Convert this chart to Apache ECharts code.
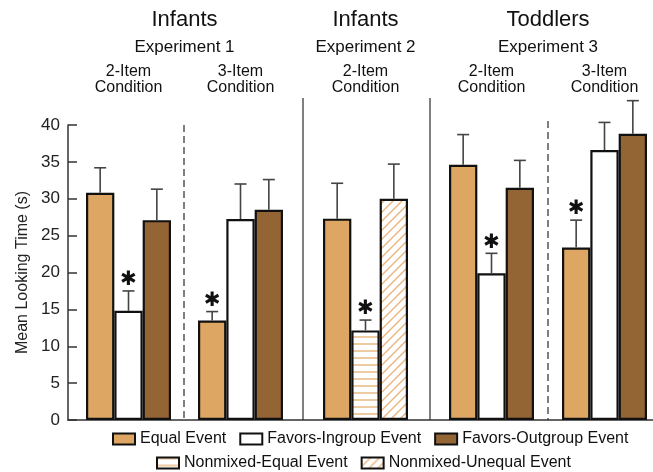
<!DOCTYPE html>
<html>
<head>
<meta charset="utf-8">
<script src="https://cdn.jsdelivr.net/npm/echarts@6/dist/echarts.min.js"></script>
<style>html,body{margin:0;padding:0;background:#fff}#c{width:653px;height:472px}</style>
</head>
<body>
<div id="c"></div>
<script>
// ---- data ----
const eventTypes = ['Equal Event', 'Favors-Ingroup Event', 'Favors-Outgroup Event', 'Nonmixed-Equal Event', 'Nonmixed-Unequal Event'];
const conditions = ['2-Item\nCondition', '3-Item\nCondition', '2-Item\nCondition', '2-Item\nCondition', '3-Item\nCondition'];
const ageGroups = ['Infants', 'Infants', 'Toddlers'];
const experiments = ['Experiment 1', 'Experiment 2', 'Experiment 3'];
const experimentOfGroup = [0, 0, 1, 2, 2];
// which event type is shown in each bar slot of each condition
const groupTypes = [[0, 1, 2], [0, 1, 2], [0, 3, 4], [0, 1, 2], [0, 1, 2]];
// means (s) for the first, second and third bar of each condition
const firstMean  = [30.8, 13.5, 27.3, 34.6, 23.4];
const secondMean = [14.8, 27.25, 12.15, 19.9, 36.6];
const thirdMean  = [27.1, 28.5, 30.0, 31.5, 38.8];
// standard errors
const firstErr  = [3.4, 1.2, 4.8, 4.1, 3.7];
const secondErr = [2.7, 4.75, 1.4, 2.7, 3.75];
const thirdErr  = [4.2, 4.1, 4.7, 3.7, 4.5];
// significance markers
const firstSig  = [0, 1, 0, 0, 1];
const secondSig = [1, 0, 1, 1, 0];
const thirdSig  = [0, 0, 0, 0, 0];
const yTicks = [0, 5, 10, 15, 20, 25, 30, 35, 40];

// ---- layout ----
const gridTop = 125, gridBottom = 52, axisLeft = 68;
const groupLeft = [86, 198, 323, 449, 562];
const groupWidth = 85;
const dividers = [
  {x: 184, top: 125, dashed: true},
  {x: 303, top: 98, dashed: false},
  {x: 430, top: 98, dashed: false},
  {x: 548, top: 121, dashed: true}
];

function stripePattern(diagonal) {
  const s = diagonal ? 9 : 7;
  const cv = document.createElement('canvas');
  cv.width = s; cv.height = s;
  const ctx = cv.getContext('2d');
  ctx.fillStyle = '#ffffff';
  ctx.fillRect(0, 0, s, s);
  ctx.strokeStyle = '#E9B57C';
  ctx.lineWidth = 1.4;
  ctx.beginPath();
  if (diagonal) {
    ctx.moveTo(-1, s + 1); ctx.lineTo(s + 1, -1);
    ctx.moveTo(-1, 1); ctx.lineTo(1, -1);
    ctx.moveTo(s - 1, s + 1); ctx.lineTo(s + 1, s - 1);
  } else {
    ctx.moveTo(0, 1); ctx.lineTo(s, 1);
  }
  ctx.stroke();
  return {image: cv, repeat: 'repeat'};
}

const typeColors = ['#DEA663', '#ffffff', '#936534', stripePattern(false), stripePattern(true)];

const means = [firstMean, secondMean, thirdMean];
const errs = [firstErr, secondErr, thirdErr];
const sigs = [firstSig, secondSig, thirdSig];

const grids = [{left: axisLeft, right: 0, top: gridTop, bottom: gridBottom}];
const xAxes = [{
  type: 'value', min: 0, max: 1, gridIndex: 0,
  axisLine: {show: true, lineStyle: {color: '#333', width: 1.5}},
  axisTick: {show: false}, axisLabel: {show: false}, splitLine: {show: false}
}];
const yAxes = [{
  type: 'value', min: 0, max: 40, interval: 5, gridIndex: 0,
  axisLine: {show: true, lineStyle: {color: '#333', width: 1.5}},
  axisTick: {show: true, inside: true, length: 9, lineStyle: {color: '#333', width: 1.5}},
  axisLabel: {fontSize: 17, color: '#222', margin: 8, fontFamily: 'Liberation Sans'},
  splitLine: {show: false},
  name: 'Mean Looking Time (s)', nameLocation: 'middle', nameRotate: 90, nameGap: 37,
  nameTextStyle: {fontSize: 16, color: '#222', fontFamily: 'Liberation Sans'}
}];
const series = [];

conditions.forEach((cond, g) => {
  const gi = g + 1;
  grids.push({left: groupLeft[g], width: groupWidth, top: gridTop, bottom: gridBottom});
  xAxes.push({type: 'category', gridIndex: gi, data: groupTypes[g].map(t => eventTypes[t]), show: false});
  yAxes.push({type: 'value', gridIndex: gi, min: 0, max: 40, show: false});
  groupTypes[g].forEach((t, k) => {
    const data = [0, 1, 2].map(j => (j === k ? means[k][g] : '-'));
    series.push({
      type: 'bar', name: eventTypes[t], xAxisIndex: gi, yAxisIndex: gi,
      data: data, barGap: '-100%', barCategoryGap: '0%',
      itemStyle: {color: typeColors[t], borderColor: '#111', borderWidth: 2.2},
      emphasis: {disabled: true}, silent: true, z: 2
    });
  });
  series.push({
    type: 'custom', xAxisIndex: gi, yAxisIndex: gi, clip: false, silent: true, z: 3,
    encode: {x: 0, y: 1},
    data: [0, 1, 2].map(k => [k, means[k][g], errs[k][g], sigs[k][g]]),
    renderItem: function (params, api) {
      const x = api.value(0), m = api.value(1), e = api.value(2), s = api.value(3);
      const p0 = api.coord([x, m]);
      const p1 = api.coord([x, m + e]);
      const st = {stroke: '#444', lineWidth: 1.6};
      const children = [
        {type: 'line', shape: {x1: p0[0], y1: p0[1], x2: p1[0], y2: p1[1]}, style: st},
        {type: 'line', shape: {x1: p1[0] - 6, y1: p1[1], x2: p1[0] + 6, y2: p1[1]}, style: st}
      ];
      if (s) {
        children.push({type: 'text', style: {
          text: '\u2731', x: p1[0], y: p1[1] - 11, align: 'center', verticalAlign: 'middle',
          fontSize: 20, fontFamily: 'DejaVu Sans', fill: '#111'
        }});
      }
      return {type: 'group', children: children};
    }
  });
});

// ---- header texts and dividers ----
const graphic = [];
const groupCenter = g => groupLeft[g] + groupWidth / 2;
conditions.forEach((cond, g) => {
  graphic.push({type: 'text', silent: true, style: {
    text: cond, x: groupCenter(g), y: 79.5, align: 'center', verticalAlign: 'middle',
    fontSize: 16, lineHeight: 15.5, fontFamily: 'Liberation Sans', fill: '#111'
  }});
});
experiments.forEach((ex, e) => {
  const gs = experimentOfGroup.map((v, i) => v === e ? i : -1).filter(i => i >= 0);
  const cx = (groupCenter(gs[0]) + groupCenter(gs[gs.length - 1])) / 2;
  graphic.push({type: 'text', silent: true, style: {
    text: ex, x: cx, y: 47, align: 'center', verticalAlign: 'middle',
    fontSize: 17, fontFamily: 'Liberation Sans', fill: '#111'
  }});
  graphic.push({type: 'text', silent: true, style: {
    text: ageGroups[e], x: cx, y: 20, align: 'center', verticalAlign: 'middle',
    fontSize: 22, fontFamily: 'Liberation Sans', fill: '#111'
  }});
});
dividers.forEach(d => {
  graphic.push({type: 'line', silent: true, shape: {x1: d.x, y1: d.top, x2: d.x, y2: 472 - gridBottom},
    style: {stroke: '#555', lineWidth: 1.5, lineDash: d.dashed ? [7, 4] : null}});
});

const legendText = {fontSize: 16, color: '#111', fontFamily: 'Liberation Sans'};
const option = {
  animation: false,
  grid: grids, xAxis: xAxes, yAxis: yAxes, series: series,
  graphic: graphic,
  legend: [
    {data: eventTypes.slice(0, 3), left: 112, top: 431, icon: 'rect', itemWidth: 22, itemHeight: 11,
     itemGap: 13, selectedMode: false, textStyle: legendText, padding: 0},
    {data: eventTypes.slice(3), left: 156, top: 455, icon: 'rect', itemWidth: 22, itemHeight: 11,
     itemGap: 13, selectedMode: false, textStyle: legendText, padding: 0}
  ]
};
const chart = echarts.init(document.getElementById('c'), null, {renderer: 'canvas'});
chart.setOption(option);
</script>
</body>
</html>
